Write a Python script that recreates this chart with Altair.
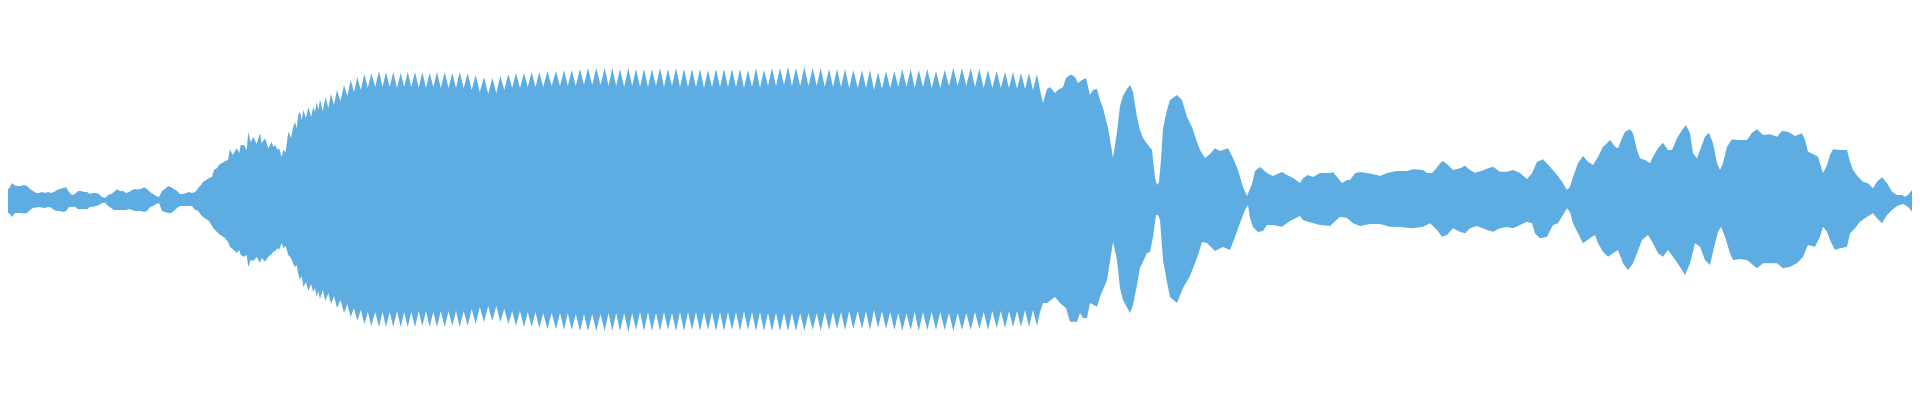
import altair as alt
import pandas as pd

# ---- waveform envelope, amplitude in level units (full scale = 192), time in ms ----
# intro: quiet noise, sampled every 3 ms from t=0
intro_t = list(range(0, 198, 3))
intro_hi = [13, 14, 13, 11, 17, 14.5, 14, 14, 15, 14, 11, 9, 7, 7, 8, 7, 8, 7, 8, 10,
            11, 12, 12.7, 8, 5, 6, 9, 9, 8, 8, 6, 7, 7, 6, 3, 2, 5, 6, 8, 10.7,
            9, 9, 7, 8, 10, 11, 10.5, 11, 12.7, 11, 8, 6, 4, 3, 9, 11, 14, 13, 11, 9,
            6, 6, 7, 8, 7, 8]
intro_lo = [-12, -16, -14, -13, -17, -13, -13, -13, -13.5, -13, -10, -8, -7.5, -7, -7.5,
            -8, -7, -7.5, -10, -11, -11, -12, -11, -7, -6.7, -6.7, -9.3, -9, -9, -9.3,
            -6.7, -6.7, -6, -5, -3, -2.7, -6, -8, -10, -10, -10, -10, -10, -9, -10,
            -11, -11, -11, -12, -11, -7, -6, -4, -3, -11, -12, -13, -13, -11, -8,
            -6, -6, -6, -6, -6, -10]

# rise: onset of the note
rise_t = [197, 199, 201, 203, 206, 209, 212, 214, 217, 219, 222, 225, 228, 230, 232.7,
          236.7, 239.3, 240.7, 244, 246.7, 248.3, 250.7, 253.3, 256.7, 260, 261.7, 265,
          268.3, 271.7, 273.3, 275, 277.7, 279, 281.7, 283.3, 285.7, 288.3, 291, 293.3,
          295, 296.7, 298.3, 300, 301.7, 303.3, 306, 308.3, 311, 313.3, 315, 316.7, 318.3]
rise_hi = [10, 13, 15, 18, 20, 22, 23, 30, 32, 35, 37, 39, 40, 50.7, 45, 51.7, 47, 55, 55,
           50, 68, 58, 63, 56, 66.7, 56.7, 61.7, 51.7, 58.3, 53, 55, 50, 52, 43, 50, 48,
           68.3, 62, 73.3, 78.3, 72, 85, 88.3, 80, 90, 82, 93, 83, 93, 88, 98, 90]
rise_lo = [-10, -12, -15, -17, -19, -21, -26, -29, -32, -34, -36, -38, -42, -47, -49, -53,
           -50, -55, -56.7, -55, -67, -60, -61, -57, -63, -58, -61.7, -56.7, -54, -52, -51,
           -48, -50, -43, -48, -46, -55, -58, -64, -67, -65, -74, -80, -76, -87, -82, -91,
           -84, -92, -88, -97, -91]

# sustained tone: crests of each cycle ...
crest_t = [320, 325.5, 331, 337, 344, 350.7, 357.3, 364.3, 371.3, 379,
           386, 393.3, 400.7, 407.7, 415, 422.3, 429.7, 437, 444.7, 452.3,
           459.7, 467.7, 475.7, 484, 492.3, 500.3, 508.3, 516, 524, 531.7,
           539.3, 547.3, 556, 564, 571.7, 580, 588, 596.3, 604.7, 612.3,
           620, 628.3, 636, 644, 652, 660, 668, 676, 684, 692,
           700, 708, 716, 724, 732, 740, 748, 756, 764, 772,
           780, 788, 796, 804.3, 812.7, 820.7, 829, 837, 845, 853.3,
           862, 870, 878, 886, 894.3, 902.3, 910.7, 918.7, 927.3, 936,
           944.7, 953.3, 962, 970.7, 979.3, 988, 996.7, 1005, 1013, 1021,
           1029, 1037]
crest_hi = [100, 103, 106, 110, 115, 120, 123, 126, 127, 129,
            128, 128, 127, 128, 128, 128, 127, 128, 128, 127,
            128, 127, 125, 123, 122, 124, 126, 127, 127, 128,
            128, 129, 129, 130, 130, 131, 132, 132, 132, 132,
            131, 132, 131, 131, 131, 132, 131, 132, 131, 131,
            131, 130, 131, 131, 131, 131, 130, 132, 130, 132,
            132, 133, 132, 133, 132, 132, 131, 131, 131, 130,
            130, 130, 128, 129, 129, 131, 131, 130, 131, 129,
            130, 132, 132, 132, 131, 130, 129, 128, 128, 127,
            127, 126]
crest_lo = [-99, -101, -104, -108, -113, -117, -121, -124, -126, -127,
            -127, -127, -127, -127, -127, -126, -127, -127, -127, -126,
            -127, -126, -124, -122, -121, -122, -124, -126, -127, -127,
            -128, -129, -129, -130, -130, -131, -131, -131, -131, -131,
            -131, -132, -130, -131, -131, -131, -130, -131, -131, -130,
            -131, -130, -131, -131, -130, -131, -130, -131, -131, -131,
            -131, -131, -131, -131, -130, -131, -130, -129, -130, -129,
            -129, -130, -128, -129, -130, -131, -130, -131, -130, -130,
            -130, -131, -130, -130, -129, -130, -128, -128, -127, -127,
            -127, -126]
# ... and the notches between them
notch_t = [322.8, 328.3, 334, 340.5, 347.3, 354, 360.8, 367.8, 375.2, 382.5,
           389.7, 397, 404.2, 411.3, 418.7, 426, 433.3, 440.8, 448.5, 456,
           463.7, 471.7, 479.8, 488.2, 496.3, 504.3, 512.2, 520, 527.8, 535.5,
           543.3, 551.7, 560, 567.8, 575.8, 584, 592.2, 600.5, 608.5, 616.2,
           624.2, 632.2, 640, 648, 656, 664, 672, 680, 688, 696,
           704, 712, 720, 728, 736, 744, 752, 760, 768, 776,
           784, 792, 800.2, 808.5, 816.7, 824.8, 833, 841, 849.2, 857.7,
           866, 874, 882, 890.2, 898.3, 906.5, 914.7, 923, 931.7, 940.3,
           949, 957.7, 966.3, 975, 983.7, 992.3, 1000.8, 1009, 1017, 1025,
           1033]
notch_hi = [89, 92, 95, 99, 104, 108, 110, 112, 113, 113,
            113, 112, 113, 113, 112, 112, 113, 112, 112, 112,
            112, 110, 108, 106, 107, 110, 112, 112, 113, 113,
            113, 114, 114, 114, 114, 115, 115, 115, 114, 114,
            113, 114, 113, 113, 114, 113, 114, 113, 113, 113,
            112, 113, 113, 113, 113, 112, 113, 112, 114, 114,
            115, 114, 114, 114, 114, 113, 113, 113, 112, 112,
            112, 110, 111, 112, 113, 113, 112, 113, 112, 112,
            114, 114, 114, 113, 112, 112, 112, 112, 111, 111,
            110]
notch_lo = [-90, -93, -96, -100, -104, -108, -110, -112, -112, -112,
            -112, -111, -112, -112, -111, -111, -112, -111, -111, -111,
            -111, -109, -107, -106, -106, -109, -111, -111, -112, -112,
            -113, -113, -113, -113, -114, -114, -114, -114, -113, -113,
            -113, -113, -112, -112, -113, -112, -113, -112, -112, -112,
            -112, -112, -112, -112, -112, -111, -112, -112, -113, -113,
            -113, -113, -113, -113, -113, -112, -112, -112, -111, -111,
            -111, -110, -111, -112, -113, -113, -112, -112, -112, -112,
            -113, -113, -113, -112, -112, -111, -111, -111, -111, -110,
            -110]

# decay and later notes: upper edge
tail_hi_t = [1040, 1043, 1047, 1050, 1055, 1058, 1063, 1066, 1070, 1072, 1075, 1078, 1082,
             1086, 1090, 1093, 1097, 1100, 1103, 1108, 1111, 1113, 1117, 1120, 1123, 1127,
             1130, 1133, 1137, 1140, 1143, 1148, 1152, 1155, 1157, 1159, 1161, 1163, 1167,
             1170, 1177, 1182, 1187, 1192, 1197, 1200, 1205, 1210, 1215, 1220, 1228, 1233,
             1238, 1243, 1247, 1252, 1255, 1260, 1267, 1273, 1282, 1287, 1293, 1300, 1303,
             1308, 1313, 1320, 1330, 1333, 1337, 1342, 1347, 1350, 1355, 1360, 1367, 1377,
             1380, 1387, 1397, 1407, 1413, 1423, 1427, 1432, 1435, 1440, 1443, 1448, 1453,
             1460, 1465, 1470, 1475, 1482, 1488, 1493, 1500, 1507, 1513, 1520, 1527, 1532,
             1537, 1543, 1550, 1557, 1562, 1567, 1570, 1573, 1578, 1583, 1588, 1593, 1598,
             1603, 1607, 1610, 1615, 1618, 1622, 1625, 1630, 1633, 1637, 1640, 1645, 1650,
             1653, 1658, 1663, 1668, 1672, 1677, 1682, 1686, 1690, 1693, 1697, 1700, 1705,
             1709, 1713, 1717, 1720, 1723, 1727, 1732, 1737, 1747, 1752, 1757, 1763, 1770,
             1777, 1782, 1788, 1795, 1802, 1805, 1808, 1813, 1818, 1823, 1827, 1830, 1833,
             1840, 1847, 1850, 1853, 1858, 1863, 1868, 1873, 1877, 1882, 1887, 1892, 1897,
             1902, 1905, 1908, 1912, 1915, 1918, 1920]
tail_hi = [110, 97, 111, 113, 107, 110, 113, 122, 125, 125, 123, 117, 120,
           122, 105, 110, 111, 100, 92, 72, 55, 42, 68, 94, 104, 111,
           115, 108, 83, 70, 62, 55, 50, 22, 15, 18, 40, 72, 90,
           100, 105, 100, 83, 73, 58, 50, 42, 46, 51.7, 49, 51.7, 42,
           30, 13, 4, 16, 29, 33, 27, 24, 28, 25, 22, 17, 21.7,
           25, 23, 27, 27, 28, 23, 17, 20, 20, 26.7, 28, 27, 25,
           24, 27, 29, 29, 30.7, 30, 27, 27, 30, 36.7, 39, 35, 30,
           31.7, 34.3, 30, 27.3, 29.3, 31.7, 33.3, 28.3, 28.3, 30, 27, 21, 26.7,
           38.3, 40.7, 33.3, 25, 18.3, 10, 13.3, 23, 36.7, 44, 38.3, 35, 43,
           53.3, 56.7, 60, 53.3, 51.7, 61.7, 68.3, 70.7, 66.7, 50, 41.7, 40, 36.7,
           43.3, 51.7, 57.3, 50, 50, 61.7, 70, 75, 66.7, 46.7, 41.7, 50, 63.3,
           67.3, 56.7, 36.7, 30, 36.7, 53.3, 60.7, 60, 60, 67.3, 70.7, 65, 65.7,
           63.3, 69, 68.3, 64, 66.7, 60, 48.3, 46, 43.3, 26.7, 35, 45, 50.7,
           50, 50, 38.3, 30, 23.3, 18.3, 16.7, 11.7, 18.3, 22.7, 16.7, 8.3, 5,
           5, 3.3, 5, 10, 14, 12.7, 5]

# decay and later notes: lower edge
tail_lo_t = [1040, 1043, 1047, 1055, 1060, 1066, 1070, 1077, 1080, 1083, 1087, 1090, 1097,
             1100, 1107, 1111, 1113, 1117, 1120, 1123, 1130, 1133, 1137, 1140, 1147, 1150,
             1153, 1156, 1158, 1160, 1163, 1167, 1170, 1177, 1183, 1190, 1197, 1202, 1207,
             1215, 1223, 1230, 1235, 1240, 1245, 1248, 1250, 1253, 1258, 1263, 1267, 1273,
             1282, 1290, 1300, 1303, 1308, 1320, 1330, 1333, 1340, 1347, 1353, 1360, 1370,
             1380, 1390, 1400, 1413, 1423, 1430, 1437, 1442, 1447, 1453, 1460, 1465, 1470,
             1477, 1487, 1493, 1500, 1507, 1513, 1520, 1527, 1532, 1535, 1540, 1547, 1553,
             1558, 1563, 1567, 1570, 1573, 1578, 1583, 1590, 1595, 1598, 1603, 1608, 1613,
             1618, 1623, 1628, 1633, 1637, 1642, 1648, 1653, 1658, 1663, 1668, 1673, 1680,
             1685, 1690, 1695, 1700, 1705, 1710, 1715, 1718, 1721, 1725, 1730, 1733, 1740,
             1747, 1753, 1757, 1763, 1770, 1777, 1783, 1790, 1797, 1803, 1808, 1815, 1820,
             1823, 1827, 1830, 1835, 1840, 1847, 1850, 1855, 1860, 1867, 1873, 1877, 1882,
             1887, 1892, 1897, 1903, 1908, 1912, 1915, 1918, 1920]
tail_lo = [-112, -103, -103, -97, -103, -108, -121.7, -121.7, -113, -118, -118, -103, -106.7,
           -97, -80, -55, -42, -60, -88, -100, -113, -105, -85, -68, -53, -52,
           -37, -15, -15, -20, -60, -82, -97, -103, -88, -76, -58, -42, -43,
           -51, -47, -50, -37, -23, -10, -5, -18, -27, -32, -31, -25, -25,
           -26.7, -21, -16, -20, -21.7, -25, -26, -23.3, -16.7, -18, -23.3, -26, -24,
           -24, -26.7, -27, -28.3, -26.7, -23.3, -30, -36.7, -35, -28.3, -31.7, -33.3, -28.3,
           -26, -30, -31.7, -28.3, -27, -28.3, -25, -21.7, -23.3, -33.3, -38.3, -36.7, -25,
           -23.3, -15, -8.3, -12, -23.3, -33.3, -43.3, -38.3, -35, -43.3, -51.7, -56.7, -53.3,
           -50, -63.3, -70, -63.3, -53.3, -40, -35, -43.3, -53.3, -56.7, -50, -56.7, -66.7,
           -75, -63.3, -43.3, -46.7, -60, -65, -43.3, -31.7, -26.7, -36.7, -53.3, -60, -59,
           -60, -65, -68.3, -63.3, -63.3, -63.3, -68.3, -66.7, -63.3, -56.7, -45, -46.7, -36.7,
           -26.7, -31.7, -40, -50, -48.3, -46.7, -33.3, -28.3, -21.7, -16.7, -13.3, -18.3, -23.3,
           -15, -10, -6, -4, -6.7, -11.7, -14.3, -10, -6.7]

WAVE_COLOR = "#5DADE2"

upper = pd.DataFrame({
    "t": intro_t + rise_t + crest_t + notch_t + tail_hi_t,
    "v": intro_hi + rise_hi + crest_hi + notch_hi + tail_hi,
}).sort_values("t").reset_index(drop=True)
upper["base"] = 0.0
lower = pd.DataFrame({
    "t": intro_t + rise_t + crest_t + notch_t + tail_lo_t,
    "v": intro_lo + rise_lo + crest_lo + notch_lo + tail_lo,
}).sort_values("t").reset_index(drop=True)
lower["base"] = 0.0

x_enc = alt.X("t:Q", axis=None, scale=alt.Scale(domain=[8, 1912], nice=False, zero=False))
y_scale = alt.Scale(domain=[-192, 192], nice=False, zero=False)


def half(frame):
    return alt.Chart(frame).mark_area(color=WAVE_COLOR, clip=True).encode(
        x=x_enc,
        y=alt.Y("v:Q", axis=None, scale=y_scale),
        y2="base:Q",
    )


chart = (
    alt.layer(half(upper), half(lower))
    .properties(width=1904, height=384, padding=0, background="white")
    .configure_view(strokeWidth=0)
)

chart.save("out.html", embed_options={"renderer": "svg", "actions": False})
